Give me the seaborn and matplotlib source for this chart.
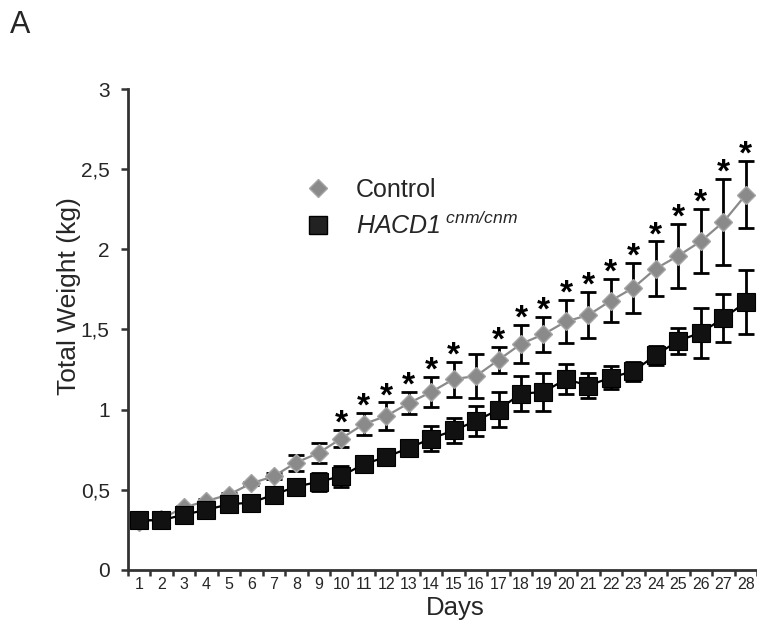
import numpy as np
import pandas as pd
import matplotlib.pyplot as plt
import seaborn as sns
from matplotlib.lines import Line2D

# data
days = list(range(1, 29))
control = [0.30, 0.32, 0.39, 0.43, 0.47, 0.54, 0.585, 0.67, 0.73, 0.82, 0.91, 0.96, 1.04, 1.11,
           1.19, 1.21, 1.31, 1.41, 1.47, 1.55, 1.59, 1.68, 1.76, 1.88, 1.96, 2.05, 2.17, 2.34]
control_err = [0.01, 0.01, 0.01, 0.01, 0.01, 0.01, 0.02, 0.05, 0.06, 0.055, 0.07, 0.085, 0.07, 0.095,
               0.11, 0.14, 0.08, 0.12, 0.11, 0.135, 0.145, 0.135, 0.155, 0.17, 0.20, 0.20, 0.27, 0.21]
hacd = [0.31, 0.31, 0.345, 0.375, 0.41, 0.42, 0.47, 0.52, 0.55, 0.585, 0.66, 0.705, 0.76, 0.82,
        0.87, 0.93, 1.00, 1.10, 1.11, 1.19, 1.15, 1.20, 1.24, 1.34, 1.43, 1.48, 1.57, 1.67]
hacd_err = [0.01, 0.01, 0.01, 0.01, 0.01, 0.01, 0.04, 0.05, 0.055, 0.065, 0.04, 0.03, 0.02, 0.08,
            0.075, 0.095, 0.11, 0.11, 0.12, 0.095, 0.08, 0.07, 0.06, 0.06, 0.08, 0.155, 0.15, 0.20]
sig_days = [10, 11, 12, 13, 14, 15, 17, 18, 19, 20, 21, 22, 23, 24, 25, 26, 27, 28]
y_ticks = [0, 0.5, 1, 1.5, 2, 2.5, 3]
y_ticklabels = ["0", "0,5", "1", "1,5", "2", "2,5", "3"]

df = pd.DataFrame({"Day": days, "Control": control, "Control_err": control_err,
                   "HACD1": hacd, "HACD1_err": hacd_err})

sns.set_style("ticks")
plt.rcParams['font.family'] = ['Liberation Sans', 'DejaVu Sans']
# legend label is the only mathtext, and it is all italic
plt.rcParams['mathtext.fontset'] = 'custom'
plt.rcParams['mathtext.rm'] = 'Liberation Sans:italic'
plt.rcParams['mathtext.it'] = 'Liberation Sans:italic'

fig = plt.figure(figsize=(7.57, 6.34), dpi=100)
ax = fig.add_axes([0.1687, 0.101, 0.8313, 0.7586])

grey = "#8a8a8a"

# error bars (behind the markers)
ax.errorbar(df["Day"], df["Control"], yerr=df["Control_err"], fmt="none", ecolor="black",
            elinewidth=2, capsize=6, capthick=2, zorder=2)
ax.errorbar(df["Day"], df["HACD1"], yerr=df["HACD1_err"], fmt="none", ecolor="black",
            elinewidth=2, capsize=6, capthick=2, zorder=2)

sns.lineplot(data=df, x="Day", y="Control", ax=ax, color=grey, linewidth=1.6,
             marker="D", markersize=9.5, markerfacecolor=grey, markeredgecolor="#a5a5a5",
             markeredgewidth=1, zorder=3)
sns.lineplot(data=df, x="Day", y="HACD1", ax=ax, color="black", linewidth=1.6,
             marker="s", markersize=13, markerfacecolor="#111111", markeredgecolor="black",
             markeredgewidth=0.8, zorder=4)

# significance stars
for d in sig_days:
    i = days.index(d)
    ax.annotate("*", xy=(d, control[i] + control_err[i]), xytext=(0, -2),
                textcoords="offset points", ha="center", va="baseline",
                fontsize=24, fontweight="bold", color="black")

ax.set_xlim(0.5, 28.5)
ax.set_ylim(0, 3)
ax.set_yticks(y_ticks)
ax.set_yticklabels(y_ticklabels)
ax.set_xticks(days)
ax.set_xticklabels([str(d) for d in days])
ax.set_xticks(np.arange(0.5, 29, 1), minor=True)
ax.tick_params(axis="x", which="major", length=0, labelsize=11.5, pad=5)
ax.tick_params(axis="x", which="minor", length=4, width=1.8, color="#333333")
ax.tick_params(axis="y", length=5, width=1.8, color="#333333", labelsize=15, pad=8)

for s in ["top", "right"]:
    ax.spines[s].set_visible(False)
for s in ["left", "bottom"]:
    ax.spines[s].set_linewidth(2)
    ax.spines[s].set_color("#333333")

ax.set_xlabel("Days", fontsize=18.5)
ax.set_ylabel("Total Weight (kg)", fontsize=19)
ax.xaxis.set_label_coords(0.521, -0.055)
ax.yaxis.set_label_coords(-0.074, 0.57)

handles = [
    Line2D([], [], ls="none", marker="D", markersize=9.5, markerfacecolor=grey,
           markeredgecolor="#a5a5a5"),
    Line2D([], [], ls="none", marker="s", markersize=13, markerfacecolor="#222222",
           markeredgecolor="black"),
]
labels = ["Control", r"$HACD1^{\ cnm/cnm}$"]
ax.legend(handles, labels, loc="center left", bbox_to_anchor=(0.263, 0.752), frameon=False,
          fontsize=18, handlelength=2, handletextpad=0.5, borderpad=0, borderaxespad=0,
          labelspacing=0.4)

fig.text(0.013, 0.948, "A", fontsize=22)

plt.savefig("out.png", dpi=100)
